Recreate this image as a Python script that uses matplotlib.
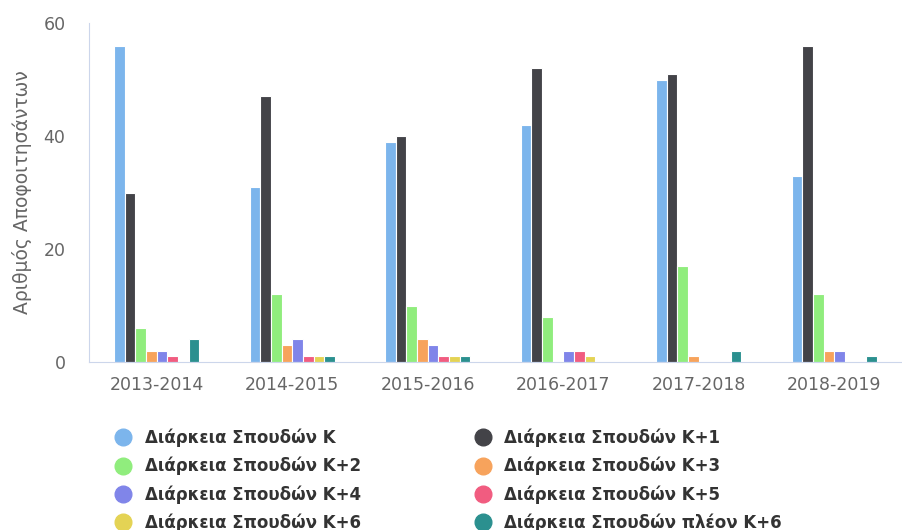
import numpy as np
import matplotlib.pyplot as plt
from matplotlib.lines import Line2D

years = ['2013-2014', '2014-2015', '2015-2016', '2016-2017', '2017-2018', '2018-2019']
series_names = ['Διάρκεια Σπουδών K', 'Διάρκεια Σπουδών K+1', 'Διάρκεια Σπουδών K+2',
                'Διάρκεια Σπουδών K+3', 'Διάρκεια Σπουδών K+4', 'Διάρκεια Σπουδών K+5',
                'Διάρκεια Σπουδών K+6', 'Διάρκεια Σπουδών πλέον K+6']
k0 = [56, 31, 39, 42, 50, 33]
k1 = [30, 47, 40, 52, 51, 56]
k2 = [6, 12, 10, 8, 17, 12]
k3 = [2, 3, 4, 0, 1, 2]
k4 = [2, 4, 3, 2, 0, 2]
k5 = [1, 1, 1, 2, 0, 0]
k6 = [0, 1, 1, 1, 0, 0]
k7 = [4, 1, 1, 0, 2, 1]
colors = ['#7cb5ec', '#434348', '#90ed7d', '#f7a35c', '#8085e9', '#f15c80', '#e4d354', '#2b908f']

fig = plt.figure(figsize=(9.02, 5.30), dpi=100)
ax = fig.add_axes([89/902, 1-362/530, 1-89/902, (362-23)/530])

x = np.arange(len(years))
gw = 0.63
w = gw/8
for i, vals in enumerate([k0, k1, k2, k3, k4, k5, k6, k7]):
    ax.bar(x - gw/2 + w*(i+0.5), vals, w, color=colors[i], edgecolor='white', linewidth=0.8,
           label=series_names[i])

ax.set_xlim(-0.5, 5.5)
ax.set_ylim(0, 60)
ax.set_yticks([0, 20, 40, 60])
ax.set_xticks(x)
ax.set_xticklabels(years)
ax.tick_params(axis='both', length=0, colors='#666666', labelsize=12.5)
ax.tick_params(axis='x', pad=10)
ax.tick_params(axis='y', pad=17)
for s in ['top', 'right']:
    ax.spines[s].set_visible(False)
ax.spines['left'].set_color('#ccd6eb')
ax.spines['bottom'].set_color('#ccd6eb')
ax.set_ylabel('Αριθμός Αποφοιτησάντων', color='#666666', fontsize=13.5, labelpad=8)

order = [0, 2, 4, 6, 1, 3, 5, 7]
handles = [Line2D([], [], marker='o', linestyle='', markersize=12, color=colors[i]) for i in order]
labels = [series_names[i] for i in order]
leg = fig.legend(handles, labels, ncol=2, loc='upper left', bbox_to_anchor=(100/902, 1-422/530),
                 frameon=False, fontsize=12, handletextpad=0.3, columnspacing=6.3,
                 labelspacing=0.58, borderaxespad=0)
for t in leg.get_texts():
    t.set_color('#333333')
    t.set_fontweight('bold')

fig.savefig('out.png', dpi=100)
